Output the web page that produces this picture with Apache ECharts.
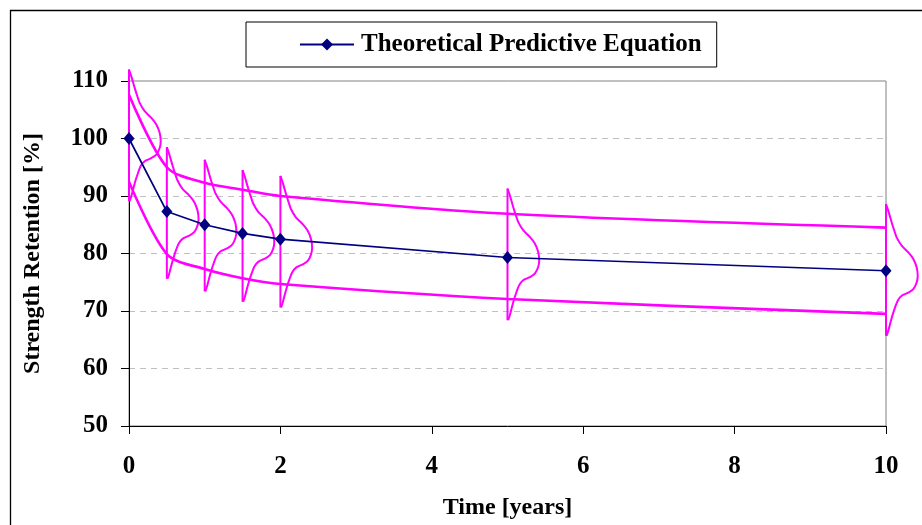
<!DOCTYPE html>
<html>
<head>
<meta charset="utf-8">
<script src="https://cdn.jsdelivr.net/npm/echarts@6/dist/echarts.min.js"></script>
<style>html,body{margin:0;padding:0;background:#fff;}#c{width:922px;height:525px;}</style>
</head>
<body>
<div id="c"></div>
<script>
// ---- data ----
const years = [0, 0.5, 1, 1.5, 2, 5, 10];
const predicted = [100, 87.3, 85.0, 83.5, 82.5, 79.3, 77.0];
const upperBound = [107.6, 95.0, 92.3, 91.1, 90.0, 86.9, 84.5];
const lowerBound = [92.5, 79.9, 77.3, 75.7, 74.7, 72.1, 69.5];
// centres of the distribution curves drawn at each time
const bellCenters = [100, 86.5, 84.3, 82.5, 81.5, 79.3, 76.6];
// shape of the distribution curve (offset in years, offset in %)
const bellDx = [0, 0.030, 0.075, 0.109, 0.141, 0.207, 0.295, 0.361, 0.405, 0.419, 0.405, 0.361, 0.295, 0.207, 0.155, 0.119, 0.084, 0.053, 0.030, 0.009];
const bellDy = [12.0, 10.85, 8.8, 7.4, 6.2, 4.75, 3.6, 2.45, 1.0, -0.5, -1.65, -2.8, -3.4, -3.95, -4.8, -6.0, -7.4, -8.9, -10.05, -10.9];
const xTicks = {min: 0, max: 10, interval: 2};
const yTicks = {min: 50, max: 110, interval: 10};
const seriesName = 'Theoretical Predictive Equation';

const FONT = 'Liberation Serif';
const MAGENTA = '#FF00FF';
const NAVY = '#000080';

const pairs = (xs, ys) => xs.map((x, i) => [x, ys[i]]);

const series = [
  {
    type: 'line', name: 'upper', data: pairs(years, upperBound), smooth: 0.3,
    symbol: 'none', clip: false, z: 2,
    lineStyle: {color: MAGENTA, width: 2.6}
  },
  {
    type: 'line', name: 'lower', data: pairs(years, lowerBound), smooth: 0.3,
    symbol: 'none', clip: false, z: 2,
    lineStyle: {color: MAGENTA, width: 2.6}
  },
  {
    type: 'custom', name: 'distributions', clip: false, z: 3,
    data: pairs(years, bellCenters),
    encode: {x: 0, y: 1},
    renderItem: function (params, api) {
      const x = api.value(0), c = api.value(1);
      const pts = bellDx.map((dx, k) => api.coord([x + dx, c + bellDy[k]]));
      const top = api.coord([x, c + bellDy[0]]);
      const bot = api.coord([x, c + bellDy[bellDy.length - 1]]);
      return {
        type: 'group',
        children: [
          {type: 'polyline', shape: {points: pts, smooth: 0.3},
           style: {stroke: MAGENTA, lineWidth: 2, fill: null}},
          {type: 'line', shape: {x1: top[0], y1: top[1], x2: bot[0], y2: bot[1]},
           style: {stroke: MAGENTA, lineWidth: 2}}
        ]
      };
    }
  },
  {
    type: 'line', name: seriesName, data: pairs(years, predicted),
    symbol: 'diamond', symbolSize: [11, 13], clip: false, z: 5,
    lineStyle: {color: NAVY, width: 1.7},
    itemStyle: {color: NAVY}
  }
];

const chart = echarts.init(document.getElementById('c'), null, {renderer: 'canvas'});
chart.setOption({
  animation: false,
  backgroundColor: '#fff',
  textStyle: {fontFamily: FONT},
  grid: {
    left: 129, top: 81, right: 36, bottom: 99,
    show: true, borderColor: '#808080', borderWidth: 1, backgroundColor: 'transparent'
  },
  legend: {
    data: [seriesName],
    left: 246, top: 22,
    padding: [10, 15, 10, 53],
    borderColor: '#000', borderWidth: 1,
    itemWidth: 54, itemHeight: 15,
    textStyle: {fontFamily: FONT, fontWeight: 'bold', fontSize: 25, color: '#000', padding: [0, 0, 0, 2]}
  },
  xAxis: {
    type: 'value', min: xTicks.min, max: xTicks.max, interval: xTicks.interval,
    name: 'Time [years]', nameLocation: 'middle', nameGap: 70,
    nameTextStyle: {fontFamily: FONT, fontWeight: 'bold', fontSize: 24, color: '#000'},
    axisLine: {lineStyle: {color: '#000', width: 1}},
    axisTick: {length: 8, lineStyle: {color: '#000'}},
    axisLabel: {margin: 28, fontFamily: FONT, fontWeight: 'bold', fontSize: 25, color: '#000'},
    splitLine: {show: false}
  },
  yAxis: {
    type: 'value', min: yTicks.min, max: yTicks.max, interval: yTicks.interval,
    name: 'Strength Retention [%]', nameLocation: 'middle', nameGap: 84,
    nameTextStyle: {fontFamily: FONT, fontWeight: 'bold', fontSize: 24, color: '#000'},
    axisLine: {show: true, lineStyle: {color: '#000', width: 1}},
    axisTick: {show: true, length: 8, lineStyle: {color: '#000'}},
    axisLabel: {margin: 21, fontFamily: FONT, fontWeight: 'bold', fontSize: 25, color: '#000'},
    splitLine: {show: true, lineStyle: {color: '#c0c0c0', width: 1, type: [6, 5]}}
  },
  graphic: [{
    type: 'rect', z: -1, silent: true,
    shape: {x: 10.5, y: 10.5, width: 1000, height: 1000},
    style: {fill: 'none', stroke: '#000', lineWidth: 1.3}
  }],
  series: series
});
</script>
</body>
</html>
